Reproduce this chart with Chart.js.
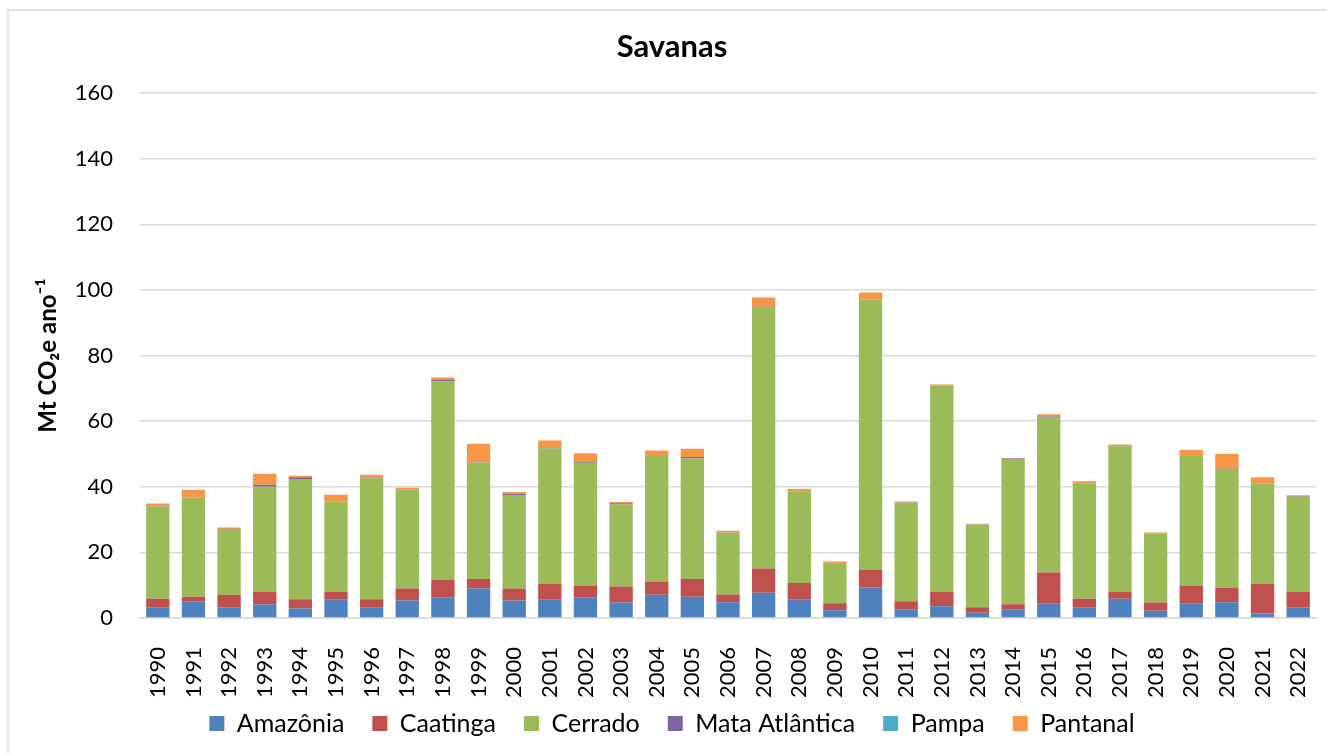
<!DOCTYPE html>
<html><head><meta charset="utf-8">
<script src="https://cdn.jsdelivr.net/npm/chart.js@4.4.0/dist/chart.umd.min.js"></script>
<style>html,body{margin:0;padding:0;background:#fff}#wrap{width:1327px;height:753px;position:relative}</style>
</head><body><div id="wrap"><canvas id="c" width="1327" height="753"></canvas></div>
<script>
const years = ["1990","1991","1992","1993","1994","1995","1996","1997","1998","1999","2000","2001","2002","2003","2004","2005","2006","2007","2008","2009","2010","2011","2012","2013","2014","2015","2016","2017","2018","2019","2020","2021","2022"];
const amazonia = [3.3,5.1,3.3,4.1,2.9,5.7,3.3,5.3,6.3,9.0,5.3,5.7,6.3,4.7,7.1,6.5,4.8,7.7,5.7,2.4,9.3,2.7,3.6,1.6,2.7,4.5,3.3,5.9,2.2,4.5,4.8,1.4,3.3];
const caatinga = [2.6,1.4,3.8,4.0,2.8,2.4,2.4,3.7,5.3,2.9,3.7,4.7,3.6,4.9,4.0,5.4,2.4,7.4,5.0,2.1,5.5,2.4,4.5,1.7,1.5,9.4,2.6,2.2,2.5,5.4,4.4,9.1,4.8];
const cerrado = [28.1,30.2,20.0,31.9,36.7,27.4,36.8,30.1,60.6,35.4,28.5,41.3,37.4,25.0,38.4,36.7,18.8,79.7,27.8,12.2,82.3,30.0,62.7,25.1,44.3,47.4,35.0,44.3,21.0,39.5,36.2,30.4,28.9];
const mataAtlantica = [0.1,0.1,0.1,0.6,0.5,0.1,0.2,0.1,0.5,0.1,0.4,0.1,0.4,0.4,0.1,0.5,0.1,0.1,0.1,0.1,0.1,0.1,0.1,0.1,0.1,0.1,0.1,0.1,0.1,0.1,0.1,0.1,0.1];
const pampa = [0,0,0,0,0,0,0,0,0,0,0,0,0,0,0,0,0,0,0,0,0,0,0,0,0,0,0,0,0,0,0,0,0];
const pantanal = [0.8,2.3,0.4,3.4,0.5,2.0,1.0,0.5,0.6,5.7,0.5,2.3,2.5,0.4,1.5,2.5,0.5,2.8,0.7,0.4,2.0,0.3,0.3,0.2,0.2,0.7,0.7,0.4,0.3,1.7,4.5,1.9,0.3];
const yTicks = [0,20,40,60,80,100,120,140,160];

const FONT = "Lato, 'Open Sans', sans-serif";
const frame = {
  id: 'frame',
  beforeDraw(chart) {
    const ctx = chart.ctx;
    ctx.save();
    ctx.fillStyle = '#fff';
    ctx.fillRect(0, 0, chart.width, chart.height);
    ctx.strokeStyle = '#d9d9d9';
    ctx.lineWidth = 1.5;
    ctx.strokeRect(8, 10, 1400, 800);
    ctx.restore();
  }
};
function ds(label, data, color) {
  return {label, data, backgroundColor: color, borderWidth: 0, categoryPercentage: 1, barPercentage: 0.655};
}
new Chart(document.getElementById('c'), {
  type: 'bar',
  data: {
    labels: years,
    datasets: [
      ds('Amazônia', amazonia, '#4F81BD'),
      ds('Caatinga', caatinga, '#C0504D'),
      ds('Cerrado', cerrado, '#9BBB59'),
      ds('Mata Atlântica', mataAtlantica, '#8064A2'),
      ds('Pampa', pampa, '#4BACC6'),
      ds('Pantanal', pantanal, '#F79646')
    ]
  },
  options: {
    responsive: false,
    animation: false,
    layout: {padding: {left: 28, right: 11, top: 0, bottom: 7}},
    plugins: {
      tooltip: {enabled: false},
      title: {
        display: true, text: 'Savanas', color: '#000',
        font: {family: FONT, size: 31, weight: 'bold', lineHeight: 1.2},
        padding: {top: 28, bottom: 28}
      },
      legend: {
        position: 'bottom',
        labels: {
          color: '#000', boxWidth: 15, boxHeight: 15, padding: 28,
          font: {family: FONT, size: 25}
        }
      }
    },
    scales: {
      x: {
        stacked: true,
        grid: {display: false, drawTicks: false},
        border: {display: true, color: '#d9d9d9', width: 1.5},
        ticks: {color: '#000', font: {family: FONT, size: 22}, minRotation: 90, maxRotation: 90, padding: 29, autoSkip: false},
        afterFit(s) {
          s.height = 65; s.paddingLeft = 0; s.paddingRight = 0;
          s._computeLabelArea = function () { return undefined; };
        }
      },
      y: {
        stacked: true,
        min: 0, max: 160,
        afterBuildTicks(s) { s.ticks = yTicks.map(v => ({value: v})); },
        grid: {color: '#d9d9d9', lineWidth: 1.5, drawTicks: false},
        border: {display: false},
        ticks: {color: '#000', font: {family: FONT, size: 22}, padding: 27},
        title: {display: true, text: 'Mt CO₂e ano⁻¹', color: '#000', font: {family: FONT, size: 24, weight: 'bold'}, padding: {top: 6, bottom: 0}},
        afterFit(s) { s.width = 112; }
      }
    }
  },
  plugins: [frame]
});
</script></body></html>
